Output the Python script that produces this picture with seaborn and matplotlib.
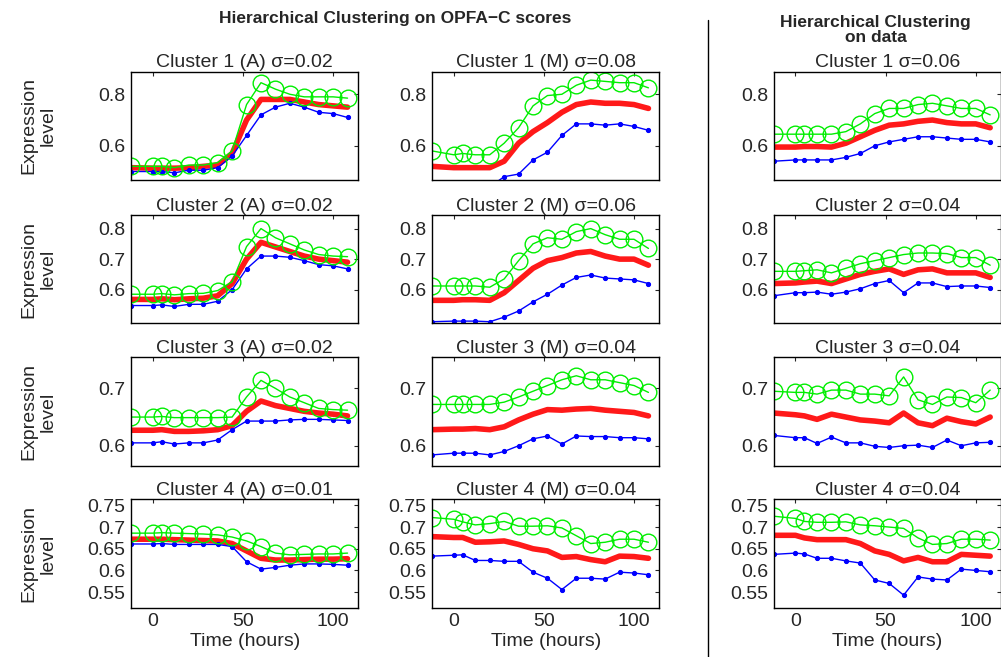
import matplotlib
matplotlib.use('Agg')
import matplotlib.pyplot as plt
import seaborn as sns

sns.set_style('white')
plt.rcParams['font.family'] = ['Liberation Sans', 'DejaVu Sans']
plt.rcParams['font.size'] = 14

time_h = [-12, 0, 5, 12, 20, 28, 36, 44, 52, 60, 68, 76, 84, 92, 100, 108]

# column A (OPFA-C, A)
a1_up = [0.52, 0.52, 0.52, 0.515, 0.525, 0.525, 0.535, 0.58, 0.76, 0.845, 0.82, 0.80, 0.79, 0.79, 0.79, 0.785]
a1_mid = [0.515, 0.513, 0.513, 0.513, 0.515, 0.52, 0.525, 0.57, 0.70, 0.78, 0.78, 0.78, 0.77, 0.76, 0.755, 0.75]
a1_lo = [0.50, 0.50, 0.50, 0.495, 0.505, 0.505, 0.515, 0.56, 0.64, 0.72, 0.75, 0.765, 0.75, 0.73, 0.725, 0.71]
a2_up = [0.585, 0.585, 0.587, 0.583, 0.587, 0.588, 0.597, 0.626, 0.741, 0.80, 0.77, 0.75, 0.73, 0.715, 0.71, 0.708]
a2_mid = [0.568, 0.568, 0.57, 0.567, 0.57, 0.572, 0.58, 0.62, 0.70, 0.755, 0.74, 0.725, 0.71, 0.70, 0.695, 0.69]
a2_lo = [0.548, 0.548, 0.55, 0.545, 0.552, 0.552, 0.562, 0.60, 0.668, 0.71, 0.71, 0.706, 0.695, 0.682, 0.678, 0.668]
a3_up = [0.65, 0.65, 0.651, 0.649, 0.649, 0.649, 0.649, 0.65, 0.685, 0.714, 0.70, 0.685, 0.675, 0.665, 0.663, 0.662]
a3_mid = [0.627, 0.627, 0.628, 0.625, 0.625, 0.626, 0.628, 0.635, 0.66, 0.678, 0.67, 0.665, 0.66, 0.657, 0.655, 0.652]
a3_lo = [0.605, 0.605, 0.607, 0.603, 0.605, 0.605, 0.61, 0.628, 0.643, 0.643, 0.643, 0.645, 0.646, 0.646, 0.645, 0.644]
a4_up = [0.686, 0.686, 0.687, 0.686, 0.685, 0.684, 0.682, 0.677, 0.668, 0.655, 0.64, 0.636, 0.637, 0.638, 0.638, 0.64]
a4_mid = [0.672, 0.672, 0.672, 0.671, 0.670, 0.669, 0.668, 0.662, 0.645, 0.628, 0.624, 0.624, 0.625, 0.626, 0.626, 0.627]
a4_lo = [0.661, 0.661, 0.662, 0.66, 0.66, 0.66, 0.66, 0.655, 0.62, 0.603, 0.607, 0.612, 0.615, 0.615, 0.614, 0.612]

# column M
m1_up = [0.58, 0.565, 0.57, 0.565, 0.565, 0.61, 0.67, 0.755, 0.795, 0.80, 0.835, 0.855, 0.85, 0.845, 0.845, 0.825]
m1_mid = [0.52, 0.515, 0.515, 0.515, 0.515, 0.54, 0.61, 0.655, 0.69, 0.73, 0.76, 0.77, 0.765, 0.765, 0.76, 0.745]
m1_lo = [0.44, 0.44, 0.44, 0.44, 0.44, 0.48, 0.49, 0.545, 0.575, 0.64, 0.685, 0.685, 0.68, 0.685, 0.675, 0.66]
m2_up = [0.612, 0.612, 0.612, 0.612, 0.608, 0.635, 0.695, 0.75, 0.77, 0.765, 0.79, 0.80, 0.78, 0.765, 0.765, 0.735]
m2_mid = [0.565, 0.565, 0.567, 0.567, 0.565, 0.59, 0.63, 0.67, 0.695, 0.705, 0.72, 0.725, 0.71, 0.70, 0.70, 0.68]
m2_lo = [0.495, 0.497, 0.497, 0.497, 0.495, 0.51, 0.53, 0.56, 0.585, 0.615, 0.64, 0.648, 0.638, 0.635, 0.632, 0.62]
m3_up = [0.672, 0.672, 0.672, 0.672, 0.672, 0.676, 0.685, 0.695, 0.705, 0.715, 0.722, 0.715, 0.715, 0.71, 0.705, 0.693]
m3_mid = [0.628, 0.629, 0.629, 0.63, 0.628, 0.633, 0.645, 0.655, 0.663, 0.662, 0.664, 0.665, 0.662, 0.66, 0.658, 0.652]
m3_lo = [0.584, 0.587, 0.587, 0.587, 0.584, 0.59, 0.60, 0.612, 0.617, 0.603, 0.617, 0.616, 0.616, 0.614, 0.614, 0.612]
m4_up = [0.722, 0.718, 0.712, 0.705, 0.708, 0.713, 0.702, 0.702, 0.703, 0.698, 0.68, 0.662, 0.665, 0.672, 0.672, 0.665]
m4_mid = [0.678, 0.676, 0.676, 0.665, 0.666, 0.668, 0.66, 0.65, 0.645, 0.63, 0.632, 0.625, 0.62, 0.633, 0.632, 0.628]
m4_lo = [0.633, 0.635, 0.636, 0.623, 0.623, 0.621, 0.621, 0.596, 0.582, 0.556, 0.582, 0.582, 0.58, 0.596, 0.594, 0.59]

# column data
d1_up = [0.645, 0.645, 0.645, 0.645, 0.645, 0.655, 0.685, 0.725, 0.745, 0.745, 0.76, 0.765, 0.755, 0.745, 0.745, 0.72]
d1_mid = [0.595, 0.595, 0.597, 0.597, 0.595, 0.61, 0.635, 0.66, 0.68, 0.685, 0.695, 0.70, 0.69, 0.685, 0.685, 0.67]
d1_lo = [0.54, 0.545, 0.545, 0.545, 0.545, 0.555, 0.57, 0.60, 0.615, 0.625, 0.635, 0.635, 0.63, 0.625, 0.625, 0.615]
d2_up = [0.66, 0.66, 0.662, 0.665, 0.655, 0.67, 0.685, 0.695, 0.705, 0.715, 0.72, 0.72, 0.718, 0.705, 0.705, 0.68]
d2_mid = [0.62, 0.622, 0.625, 0.628, 0.62, 0.635, 0.65, 0.66, 0.668, 0.65, 0.665, 0.668, 0.655, 0.655, 0.655, 0.64]
d2_lo = [0.58, 0.59, 0.59, 0.592, 0.585, 0.592, 0.603, 0.62, 0.63, 0.59, 0.622, 0.622, 0.61, 0.612, 0.612, 0.607]
d3_up = [0.695, 0.693, 0.693, 0.69, 0.697, 0.697, 0.69, 0.69, 0.687, 0.72, 0.68, 0.672, 0.685, 0.684, 0.675, 0.697]
d3_mid = [0.657, 0.654, 0.652, 0.646, 0.655, 0.65, 0.645, 0.643, 0.64, 0.657, 0.64, 0.635, 0.648, 0.642, 0.638, 0.65]
d3_lo = [0.618, 0.614, 0.614, 0.604, 0.615, 0.605, 0.605, 0.599, 0.597, 0.6, 0.601, 0.597, 0.61, 0.6, 0.605, 0.606]
d4_up = [0.725, 0.72, 0.713, 0.711, 0.711, 0.712, 0.705, 0.703, 0.7, 0.697, 0.675, 0.66, 0.662, 0.672, 0.672, 0.67]
d4_mid = [0.681, 0.681, 0.675, 0.671, 0.671, 0.671, 0.662, 0.645, 0.637, 0.622, 0.63, 0.62, 0.62, 0.637, 0.635, 0.633]
d4_lo = [0.637, 0.64, 0.638, 0.628, 0.628, 0.622, 0.617, 0.578, 0.57, 0.543, 0.585, 0.58, 0.578, 0.603, 0.6, 0.597]

titles = [
    ['Cluster 1 (A) σ=0.02', 'Cluster 1 (M) σ=0.08', 'Cluster 1 σ=0.06'],
    ['Cluster 2 (A) σ=0.02', 'Cluster 2 (M) σ=0.06', 'Cluster 2 σ=0.04'],
    ['Cluster 3 (A) σ=0.02', 'Cluster 3 (M) σ=0.04', 'Cluster 3 σ=0.04'],
    ['Cluster 4 (A) σ=0.01', 'Cluster 4 (M) σ=0.04', 'Cluster 4 σ=0.04'],
]
series = [
    [(a1_up, a1_mid, a1_lo), (m1_up, m1_mid, m1_lo), (d1_up, d1_mid, d1_lo)],
    [(a2_up, a2_mid, a2_lo), (m2_up, m2_mid, m2_lo), (d2_up, d2_mid, d2_lo)],
    [(a3_up, a3_mid, a3_lo), (m3_up, m3_mid, m3_lo), (d3_up, d3_mid, d3_lo)],
    [(a4_up, a4_mid, a4_lo), (m4_up, m4_mid, m4_lo), (d4_up, d4_mid, d4_lo)],
]
ylims = [(0.467, 0.888), (0.49, 0.845), (0.565, 0.754), (0.514, 0.764)]
yticks = [[0.6, 0.8], [0.6, 0.7, 0.8], [0.6, 0.7], [0.55, 0.6, 0.65, 0.7, 0.75]]

fig = plt.figure(figsize=(10.01, 6.57), dpi=100)
lefts = [0.131, 0.4316, 0.773]
bottoms = [0.726, 0.508, 0.291, 0.075]
w, h = 0.227, 0.165

for r in range(4):
    for c in range(3):
        ax = fig.add_axes([lefts[c], bottoms[r], w, h])
        up, mid, lo = series[r][c]
        sns.lineplot(x=time_h, y=mid, ax=ax, color='red', lw=4, alpha=0.9)
        sns.lineplot(x=time_h, y=lo, ax=ax, color='blue', lw=1, marker='o', ms=3, mec='blue')
        sns.lineplot(x=time_h, y=up, ax=ax, color='#00ee00', lw=1, marker='o', ms=12,
                     mfc='none', mec='#00ee00', mew=1)
        ax.set_xlim(-12, 114)
        ax.set_ylim(*ylims[r])
        ax.set_yticks(yticks[r])
        ax.set_yticklabels([('%g' % v) for v in yticks[r]])
        ax.set_xticks([0, 50, 100])
        ax.tick_params(direction='in', top=True, right=True, length=3, labelsize=14, pad=4)
        for s in ax.spines.values():
            s.set_color('black')
            s.set_linewidth(1)
        ax.set_title(titles[r][c], fontsize=14, pad=3)
        if r == 3:
            ax.set_xlabel('Time (hours)', fontsize=14, labelpad=2)
        else:
            ax.set_xticklabels([])
        if c == 0:
            ax.set_ylabel('Expression\nlevel', fontsize=14, linespacing=1.1)
            ax.yaxis.set_label_coords(-0.33, 0.5)

fig.text(0.395, 0.972, 'Hierarchical Clustering on OPFA−C scores', ha='center', va='center',
         fontsize=12.5, fontweight='bold')
fig.text(0.875, 0.955, 'Hierarchical Clustering\non data', ha='center', va='center',
         fontsize=12.5, fontweight='bold', linespacing=1.0)
fig.add_artist(plt.Line2D([0.707, 0.707], [0.0, 0.97], color='black', lw=1))

fig.savefig('out.png', dpi=100)
